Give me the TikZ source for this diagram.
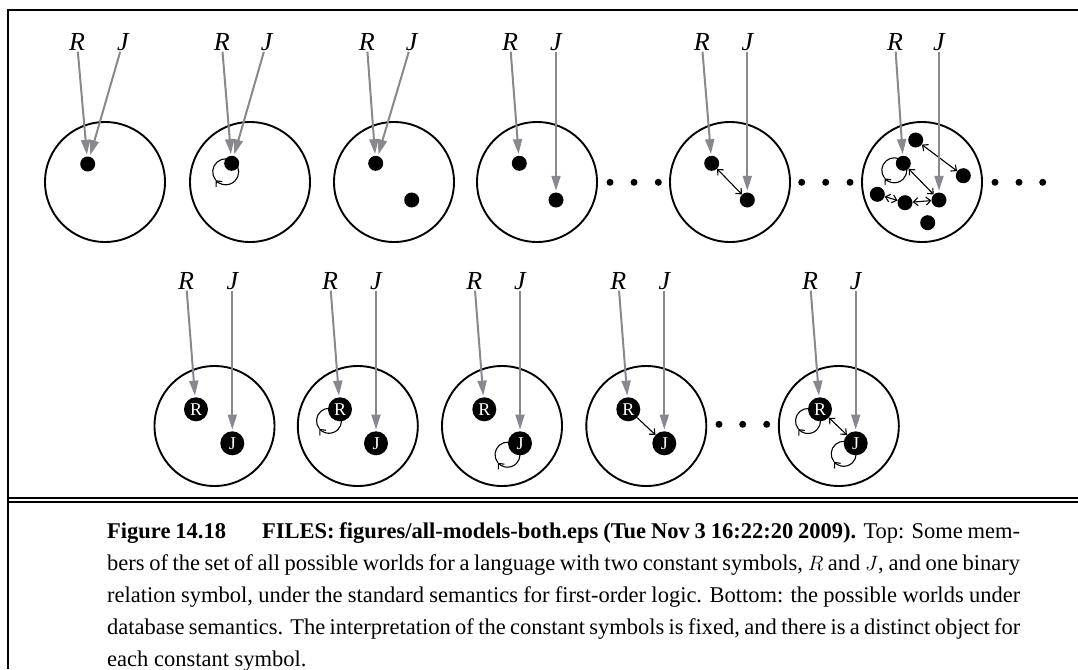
\documentclass[tikz,border=0pt]{standalone}
\usepackage{fontspec}
\setmainfont{Liberation Serif}
\usetikzlibrary{arrows.meta,backgrounds}
\definecolor{ag}{RGB}{135,137,142}
\tikzset{
 world/.style={draw, circle, line width=1.9pt, minimum size=120pt, inner sep=0pt},
 obj/.style={fill=black, circle, inner sep=0pt, minimum size=15pt},
 nobj/.style={fill=black, circle, inner sep=0pt, minimum size=24pt, text=white, font=\fontsize{18}{18}\selectfont},
 edot/.style={fill=black, circle, inner sep=0pt, minimum size=7pt},
 sym/.style={font=\itshape\fontsize{26}{26}\selectfont, inner sep=1pt},
 refarrow/.style={draw=ag, line width=2pt, -{Triangle[length=15pt,width=9pt]}, shorten >=1.5pt},
 rel/.style={line width=1.1pt, {Straight Barb[length=4.5pt,width=8pt]}-{Straight Barb[length=4.5pt,width=8pt]}},
 rel1/.style={line width=1.1pt, -{Straight Barb[length=4.5pt,width=8pt]}},
 loopline/.style={line width=1.1pt},
 frameline/.style={line width=2.6pt},
}
% self loop: #1 node, #2 dx, #3 dy, #4 radius
\newcommand{\selfloop}[4]{%
 \begin{pgfonlayer}{background}
 \draw[loopline,-{Straight Barb[length=4.5pt,width=8pt]}] ([shift={(#2,#3)}]#1.center) ++(45:#4) arc[start angle=45,end angle=-140,radius=#4];
 \draw[loopline] ([shift={(#2,#3)}]#1.center) ++(220:#4) arc[start angle=220,end angle=45,radius=#4];
 \end{pgfonlayer}}
\begin{document}
\begin{tikzpicture}[x=1pt,y=1pt]
\useasboundingbox (0,0) rectangle (1078,-669);
% frame
\draw[frameline] (1078,-10) -- (8,-10) -- (8,-669);
\draw[line width=2pt] (8,-498) -- (1078,-498);
\draw[line width=2pt] (8,-502) -- (1078,-502);

% ---------- top row ----------
% world 1
\node[world] (w1) at (105,-182) {};
\node[obj] (d1) at (87.7,-164) {};
\node[sym] (R1) at (77,-42) {R};
\node[sym] (J1) at (123,-42) {J};
\draw[refarrow] (R1) -- (d1);
\draw[refarrow] (J1) -- (d1);
% world 2
\node[world] (w2) at (250,-182) {};
\node[obj] (d2) at (231.7,-163.3) {};
\selfloop{d2}{-6}{-8.5}{13}
\node[sym] (R2) at (221.7,-42) {R};
\node[sym] (J2) at (266.7,-42) {J};
\draw[refarrow] (R2) -- (d2);
\draw[refarrow] (J2) -- (d2);
% world 3
\node[world] (w3) at (394,-182) {};
\node[obj] (d3a) at (375.7,-163.3) {};
\node[obj] (d3b) at (411.7,-200) {};
\node[sym] (R3) at (366.7,-42) {R};
\node[sym] (J3) at (411.7,-42) {J};
\draw[refarrow] (R3) -- (d3a);
\draw[refarrow] (J3) -- (d3a);
% world 4
\node[world] (w4) at (537,-182) {};
\node[obj] (d4a) at (519.3,-163.3) {};
\node[obj] (d4b) at (556,-200) {};
\node[sym] (R4) at (510,-42) {R};
\node[sym] (J4) at (556,-42) {J};
\draw[refarrow] (R4) -- (d4a);
\draw[refarrow] (J4) -- (d4b);
% dots
\node[edot] (e1) at (610,-182.3) {};
\node[edot] (e2) at (634,-182.3) {};
\node[edot] (e3) at (658.3,-182.3) {};
% world 5
\node[world] (w5) at (730,-182) {};
\node[obj] (d5a) at (711.7,-163.3) {};
\node[obj] (d5b) at (747.3,-200) {};
\node[sym] (R5) at (701.7,-42) {R};
\node[sym] (J5) at (747.3,-42) {J};
\draw[rel] (d5a) -- (d5b);
\draw[refarrow] (R5) -- (d5a);
\draw[refarrow] (J5) -- (d5b);
% dots
\node[edot] (e4) at (801.7,-182.3) {};
\node[edot] (e5) at (825.7,-182.3) {};
\node[edot] (e6) at (850,-182.3) {};
% world 6
\node[world] (w6) at (922,-182) {};
\node[obj] (d6a) at (915.7,-140) {};
\node[obj] (d6b) at (903.3,-163.3) {};
\node[obj] (d6c) at (963.3,-175.7) {};
\node[obj] (d6d) at (877.3,-194.3) {};
\node[obj] (d6e) at (905,-202.7) {};
\node[obj] (d6f) at (939,-200) {};
\node[obj] (d6g) at (927.7,-222.7) {};
\selfloop{d6b}{-9}{-7}{12.5}
\draw[rel] (d6a) -- (d6c);
\draw[rel] (d6b) -- (d6f);
\draw[rel] (d6d) -- (d6e);
\draw[rel] (d6e) -- (d6f);
\node[sym] (R6) at (895,-42) {R};
\node[sym] (J6) at (939,-42) {J};
\draw[refarrow] (R6) -- (d6b);
\draw[refarrow] (J6) -- (d6f);
% dots
\node[edot] (e7) at (995,-182.3) {};
\node[edot] (e8) at (1019,-182.3) {};
\node[edot] (e9) at (1042.7,-182.3) {};

% ---------- bottom row ----------
% b1
\node[world] (v1) at (214.5,-426) {};
\node[nobj] (r1) at (196,-409.3) {R};
\node[nobj] (j1) at (232.3,-443.3) {J};
\node[sym] (RR1) at (186,-281) {R};
\node[sym] (JJ1) at (232.3,-281) {J};
\draw[refarrow] (RR1) -- (r1);
\draw[refarrow] (JJ1) -- (j1);
% b2
\node[world] (v2) at (357.8,-426) {};
\node[nobj] (r2) at (340,-409.3) {R};
\node[nobj] (j2) at (376,-443.3) {J};
\selfloop{r2}{-11}{-11.5}{12.5}
\node[sym] (RR2) at (330,-281) {R};
\node[sym] (JJ2) at (376,-281) {J};
\draw[refarrow] (RR2) -- (r2);
\draw[refarrow] (JJ2) -- (j2);
% b3
\node[world] (v3) at (502,-426) {};
\node[nobj] (r3) at (484.3,-409.3) {R};
\node[nobj] (j3) at (520,-443.3) {J};
\selfloop{j3}{-12.5}{-11.4}{12.5}
\node[sym] (RR3) at (474.3,-281) {R};
\node[sym] (JJ3) at (520,-281) {J};
\draw[refarrow] (RR3) -- (r3);
\draw[refarrow] (JJ3) -- (j3);
% b4
\node[world] (v4) at (646.3,-426) {};
\node[nobj] (r4) at (628.3,-409.3) {R};
\node[nobj] (j4) at (664.3,-443.3) {J};
\draw[rel1] (r4) -- (j4);
\node[sym] (RR4) at (618.3,-281) {R};
\node[sym] (JJ4) at (664.3,-281) {J};
\draw[refarrow] (RR4) -- (r4);
\draw[refarrow] (JJ4) -- (j4);
% dots
\node[edot] (f1) at (719,-424.3) {};
\node[edot] (f2) at (742.7,-424.3) {};
\node[edot] (f3) at (766.7,-424.3) {};
% b5
\node[world] (v5) at (838.8,-426) {};
\node[nobj] (r5) at (820,-409.3) {R};
\node[nobj] (j5) at (855.7,-443.3) {J};
\selfloop{r5}{-12}{-11.7}{12.5}
\selfloop{j5}{-12}{-10.5}{12.5}
\draw[rel] (r5) -- (j5);
\node[sym] (RR5) at (810,-281) {R};
\node[sym] (JJ5) at (855.7,-281) {J};
\draw[refarrow] (RR5) -- (r5);
\draw[refarrow] (JJ5) -- (j5);

% ---------- caption ----------
\node[anchor=north west, inner sep=0pt, text width=913pt, align=justify,
      font=\fontsize{22.5}{32}\selectfont] (cap) at (107,-522)
{\textbf{Figure 14.18}\hspace*{1.6em}\textbf{FILES: figures/all-models-both.eps (Tue Nov 3 16:22:20 2009).} Top: Some mem-\linebreak
bers of the set of all possible worlds for a language with two constant symbols, $R$ and $J$, and one binary\linebreak
relation symbol, under the standard semantics for first-order logic. Bottom: the possible worlds under\linebreak
database semantics. The interpretation of the constant symbols is fixed, and there is a distinct object for\linebreak
each constant symbol.};
\end{tikzpicture}
\end{document}
